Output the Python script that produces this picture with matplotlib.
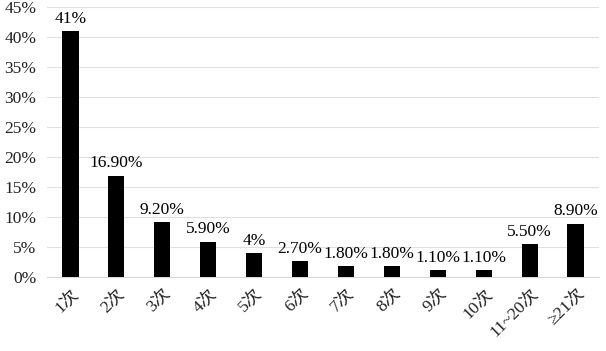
import matplotlib.pyplot as plt
from matplotlib.ticker import FuncFormatter

SERIF = ['Liberation Serif', 'Noto Sans CJK SC', 'DejaVu Sans']
plt.rcParams['font.family'] = SERIF

categories = ['1次', '2次', '3次', '4次', '5次', '6次', '7次', '8次', '9次', '10次', '11~20次', '≥21次']
values = [41, 16.9, 9.2, 5.9, 4, 2.7, 1.8, 1.8, 1.1, 1.1, 5.5, 8.9]
value_labels = ['41%', '16.90%', '9.20%', '5.90%', '4%', '2.70%', '1.80%', '1.80%',
                '1.10%', '1.10%', '5.50%', '8.90%']

fig = plt.figure(figsize=(6.06, 3.51), dpi=100)
ax = fig.add_axes([0.078, 0.211, 0.91, 0.769])

x = range(len(categories))
bars = ax.bar(x, values, width=0.36, color='black', zorder=3)

# value labels above the bars
for bar, lab in zip(bars, value_labels):
    ax.annotate(lab, (bar.get_x() + bar.get_width() / 2, bar.get_height()),
                xytext=(0, 3), textcoords='offset points',
                ha='center', va='bottom', fontsize=12.5, family='Liberation Serif')

ax.set_xlim(-0.5, len(categories) - 0.5)
ax.set_ylim(0, 45)
ax.set_yticks(range(0, 46, 5))
ax.yaxis.set_major_formatter(FuncFormatter(lambda v, p: f'{v:.0f}%'))
ax.grid(axis='y', color='#e0e0e0', linewidth=0.8, zorder=0)

for s in ['top', 'right', 'left']:
    ax.spines[s].set_visible(False)
ax.spines['bottom'].set_color('#d9d9d9')
ax.tick_params(axis='both', length=0, labelsize=12.5, colors='#222222')
ax.tick_params(axis='y', pad=8)
ax.tick_params(axis='x', pad=6)

ax.set_xticks(list(x))
ax.set_xticklabels(categories, rotation=45, ha='right', rotation_mode='anchor')

for t in ax.get_yticklabels():
    t.set_family('Liberation Serif')
for t in ax.get_xticklabels():
    t.set_family(SERIF)

plt.savefig('out.png', dpi=100)
